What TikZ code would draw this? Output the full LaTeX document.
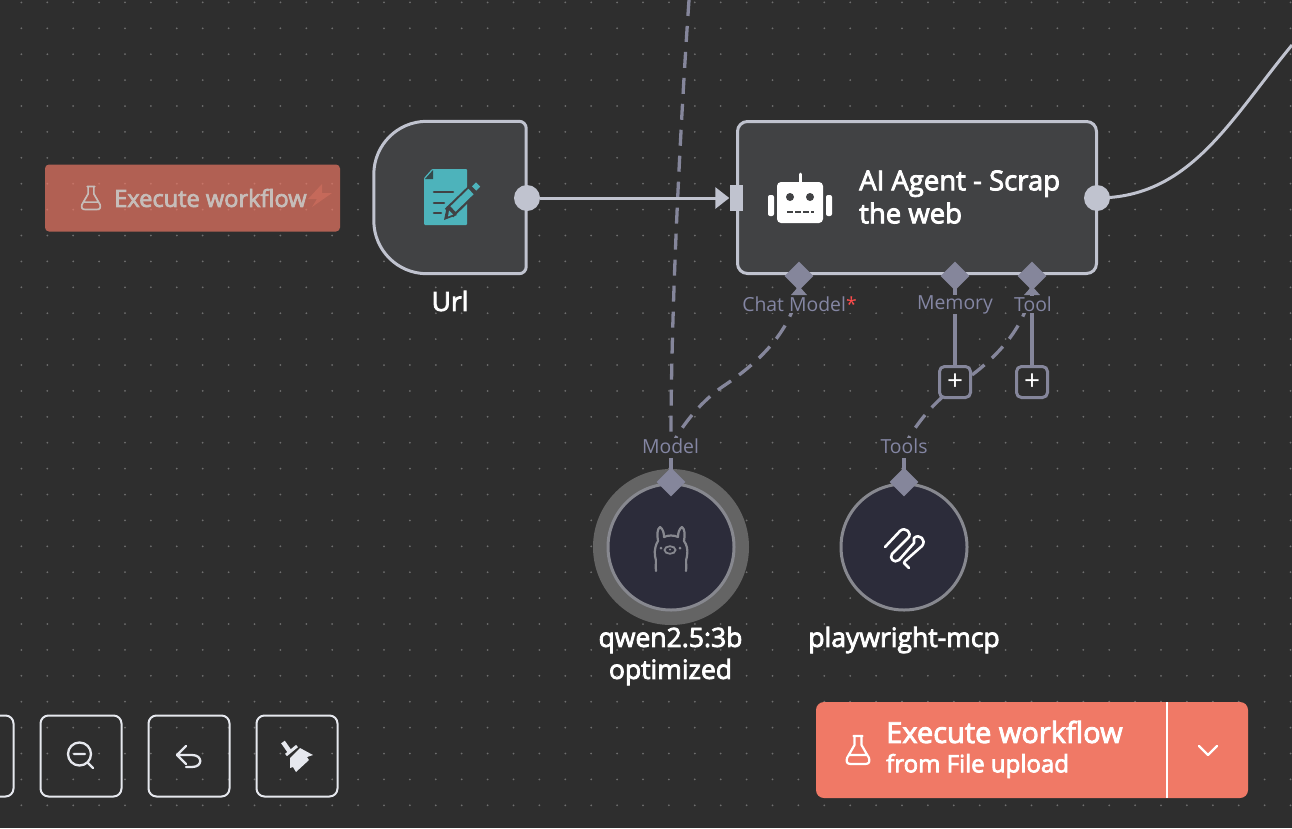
\documentclass[tikz,border=0pt]{standalone}
\usepackage{fontspec}
\setmainfont{Open Sans}
\newfontfamily\medfont[FakeBold=3]{Open Sans}
\usetikzlibrary{arrows.meta,calc,shapes.geometric}

\definecolor{canvas}{HTML}{2E2E2E}
\definecolor{griddotc}{HTML}{6E6E6E}
\definecolor{nodefill}{HTML}{414244}
\definecolor{nodeline}{HTML}{C0C3CF}
\definecolor{portc}{HTML}{85869B}
\definecolor{labelc}{HTML}{8486A3}
\definecolor{subfill}{HTML}{2C2C3A}
\definecolor{subline}{HTML}{87888F}
\definecolor{halo}{HTML}{646464}
\definecolor{coral}{HTML}{F07966}
\definecolor{teal}{HTML}{4DB3BB}
\definecolor{btnline}{HTML}{E6E8EE}
\definecolor{fadedtext}{HTML}{C6BDB9}

\tikzset{
	griddot/.style={griddotc},
	flowline/.style={nodeline, line width=3pt},
	subdash/.style={portc, line width=3.3pt, dash pattern=on 16pt off 10pt},
	substub/.style={portc, line width=3.3pt},
	portdiamond/.style={shape=diamond, fill=portc, minimum size=29pt, inner sep=0pt},
	outport/.style={shape=circle, fill=nodeline, minimum size=26pt, inner sep=0pt},
	portlabel/.style={text=labelc, fill=canvas, inner sep=0pt, minimum height=17pt, font=\fontsize{19.4}{20}\selectfont},
	nodetitle/.style={text=white, inner sep=0pt, align=center, font=\medfont\fontsize{26.5}{32}\selectfont},
	subnode/.style={shape=circle, fill=subfill, draw=subline, line width=3pt, minimum size=126pt, inner sep=0pt},
	plusbox/.style={draw=portc, fill=canvas, line width=3pt, rounded corners=5pt, minimum size=31pt, inner sep=0pt, text=white, font=\fontsize{28}{28}\selectfont},
	toolbtn/.style={draw=btnline, line width=2pt, rounded corners=8pt, minimum size=81pt, inner sep=0pt},
	flask/.pic={
		\draw[line join=round, line cap=round] (-4.5,-14) -- (4.5,-14) (-3.5,-14) -- (-3.5,-5) -- (-11,8)
			.. controls (-12,12) and (-11,14) .. (-7,14) -- (7,14)
			.. controls (11,14) and (12,12) .. (11,8) -- (3.5,-5) -- (3.5,-14)
			(-9,5) -- (9,5);
	}
}

\begin{document}
\begin{tikzpicture}[x=1pt, y=-1pt]
	\useasboundingbox (0,0) rectangle (1292,828);
	\clip (0,0) rectangle (1292,828);
	\fill[canvas] (0,0) rectangle (1292,828);

	% Dotted canvas
	\foreach \i in {0,...,50}
		\foreach \j in {0,...,31}
			\fill[griddot] ({-4.5+25.9*\i},{2.4+25.9*\j}) circle (1);

	% Trigger button
	\node[fill=coral, fill opacity=.68, rounded corners=4pt, minimum width=295pt, minimum height=67pt, inner sep=0pt] (trigger) at (192.5,198) {};
	\pic[draw=fadedtext, line width=1.7pt, scale=.82] at (91,198) {flask};
	\node[anchor=west, inner sep=0pt, text=fadedtext, font=\medfont\fontsize{23.6}{24}\selectfont] (triggertext) at (114,198) {Execute workflow};
	\fill[coral!78!canvas] (322,184) -- (308,199) -- (317,199) -- (312,207) -- (332,193) -- (322,193) -- cycle;

	% Ports the connectors run between
	\coordinate (chatport) at (799,276);
	\coordinate (memoryport) at (955,276);
	\coordinate (toolport) at (1032,276);
	\coordinate (modelport) at (671,482);
	\coordinate (toolsport) at (904,482);
	\coordinate (topend) at (689,0);
	\coordinate (rightend) at (1292,45);
	\coordinate (agentout) at (1097,198);

	% Connectors
	\draw[subdash] (topend) .. controls (682,100) and (671,300) .. (671,436);
	\foreach \from/\to in {chatport/modelport, toolport/toolsport}
		\draw[subdash] (\from) .. controls ($(\from)+(0,50)$) and ($(\from)+(-40,86)$) .. ($(\from)+(-74,109)$)
			.. controls ($(\from)+(-97,124)$) and ($(\to)+(11,-57)$) .. ($(\to)+(1,-37)$);
	\draw[flowline] (agentout) .. controls (1190,198) and (1230,120) .. (rightend);

	% Url node
	\node[minimum width=152pt, minimum height=152pt, inner sep=0pt] (urlnode) at (450,197.5) {};
	\draw[draw=nodeline, fill=nodefill, line width=3pt, rounded corners=53pt] (urlnode.north) -- (urlnode.north west) -- (urlnode.south west)
		[rounded corners=7pt] -- (urlnode.south) -- (urlnode.south east) -- (urlnode.north east) -- cycle;
	\node[nodetitle] (urltitle) at (450,301) {Url};

	% Note icon
	\fill[teal, rounded corners=1pt] (432,169) -- (467,169) -- (467,225) -- (424,225) -- (424,178) -- cycle;
	\fill[canvas!80!teal] (425,179) -- (433,170) -- (433,179) -- cycle;
	\draw[nodefill, line width=2.6pt, line cap=round] (434,192) -- (453,192) (434,203) -- (444,203) (434,213) -- (441,213);
	\draw[nodefill, line width=12pt] (449,213) -- (477,186);
	\draw[teal, line width=7.5pt] (453,209) -- (471,191.5);
	\draw[teal, line width=6pt] (474,188.5) -- (478,184.5);
	\fill[nodefill] (444,220) -- (447,206) -- (457,215) -- cycle;
	\fill[teal] (448,216.5) -- (449,210.5) -- (453,214.5) -- cycle;

	% Agent node
	\node[draw=nodeline, fill=nodefill, line width=3pt, rounded corners=10pt, minimum width=359pt, minimum height=152pt, inner sep=0pt] (agentnode) at (917,197.5) {};
	\node[anchor=west, inner sep=0pt, text=white, align=left, font=\medfont\fontsize{27.5}{33}\selectfont] (agenttitle) at (859,197) {AI Agent - Scrap\\the web};

	% Robot icon
	\draw[white, line width=3pt, line cap=round] (800,174) -- (800,184);
	\fill[white, rounded corners=4pt] (777,182) rectangle (823,223);
	\fill[white, rounded corners=2pt] (768,195) rectangle (774,216);
	\fill[white, rounded corners=2pt] (826,195) rectangle (832,216);
	\fill[nodefill] (790,197) circle (4) (810,197) circle (4);
	\draw[nodefill, line width=2.5pt, dash pattern=on 6pt off 2pt] (787,212) -- (814,212);

	% Main flow and the two round ports
	\node[outport] (urlout) at (527,198) {};
	\node[outport] (agentoutport) at (agentout) {};
	\node[fill=nodeline, minimum width=13pt, minimum height=26pt, inner sep=0pt] (agentin) at (736,198) {};
	\draw[flowline, -{Triangle[length=14pt, width=21pt]}] (urlout) -- (agentin);

	% Plus boxes and solid stubs
	\node[plusbox] (memoryplus) at (955,382) {+};
	\node[plusbox] (toolplus) at (1032,382) {+};
	\draw[substub] (memoryport) -- (memoryplus);
	\draw[substub] (toolport) -- (toolplus);

	% Subnodes
	\node[shape=circle, fill=halo, minimum size=156pt, inner sep=0pt] (modelhalo) at (671,547) {};
	\node[subnode] (modelnode) at (671,547) {};
	\node[subnode] (toolsnode) at (904,547) {};
	\draw[substub] (671,458) -- (modelport);
	\draw[substub] (904,458) -- (toolsport);

	% Diamonds
	\node[portdiamond] (chatd) at (chatport) {};
	\node[portdiamond] (memoryd) at (memoryport) {};
	\node[portdiamond] (toold) at (toolport) {};
	\node[portdiamond] (modeld) at (modelport) {};
	\node[portdiamond] (toolsd) at (toolsport) {};
	\foreach \port in {chatport, toolport}
		\fill[portc] ($(\port)+(-8,19)$) -- ($(\port)+(8,19)$) -- ($(\port)+(0,10)$) -- cycle;

	% Port labels
	\node[portlabel] (chatlabel) at (799.5,304.5) {Chat Model\textcolor{red!70!white}{*}};
	\node[portlabel] (memorylabel) at (955,304.5) {Memory};
	\node[portlabel] (toollabel) at (1033,304.5) {Tool};
	\node[portlabel] (modellabel) at (670.5,446.5) {Model};
	\node[portlabel] (toolslabel) at (904,446.5) {Tools};

	% Llama icon
	\draw[subline, line width=2.2pt, line join=round, line cap=round] (656,571) .. controls (655,565) and (657,562) .. (655,556)
		.. controls (654,550) and (656,544) .. (658,541) .. controls (657,535) and (657,529) .. (660,527)
		.. controls (663,529) and (664,533) .. (664,537) .. controls (668,535) and (674,535) .. (678,537)
		.. controls (678,533) and (679,529) .. (682,527) .. controls (685,529) and (685,535) .. (684,541)
		.. controls (687,545) and (688,550) .. (687,556) .. controls (685,562) and (687,565) .. (686,571);
	\draw[subline, line width=1.8pt] (670,550) ellipse (5.5 and 3.8);
	\fill[subline] (661,548) circle (1.5) (680,548) circle (1.5) (670,549.5) circle (1.2);

	% Clip icon
	\draw[white, line width=2.6pt, line join=round, line cap=round] (885,547) -- (900,531)
		.. controls (905,526) and (913,533) .. (908,538) -- (892,554)
		.. controls (889,558) and (894,564) .. (899,560) -- (914,543) -- (914,538)
		.. controls (919,533) and (927,540) .. (922,546) -- (905,561) -- (904,563) -- (909,568);

	% Subnode titles
	\node[nodetitle] (modeltitle) at (670.5,656) {qwen2.5:3b\\optimized};
	\node[nodetitle] (toolstitle) at (904,640) {playwright-mcp};

	% Canvas buttons
	\node[toolbtn] (fitbtn) at (-27,756) {};
	\node[toolbtn] (zoombtn) at (81,756) {};
	\node[toolbtn] (undobtn) at (189,756) {};
	\node[toolbtn] (tidybtn) at (297,756) {};
	\draw[btnline, line width=2.3pt, line cap=round] (79.5,754) circle (11.5) (74,754) -- (85,754) (88,763) -- (93,768);
	\draw[btnline, line width=2.3pt, line cap=round, line join=round] (186,746) -- (177,755) -- (186,764)
		(177,755) -- (192,755) .. controls (203,755) and (203,767) .. (192,767) -- (186,767);
	\draw[btnline, line width=4.5pt] (283,742) -- (290,752);
	\draw[btnline, line width=3pt] (286,755) -- (297,746);
	\fill[btnline] (290,758) -- (300,748) -- (313,755) -- (307,757) -- (309,760) -- (296,772) -- (293,767) -- (290,768) -- cycle;

	% Run button
	\node[fill=coral, rounded corners=8pt, minimum width=432pt, minimum height=96pt, inner sep=0pt] (runbtn) at (1032,750) {};
	\draw[white, line width=2pt] (1167,702) -- (1167,798);
	\pic[draw=white, line width=2.2pt] at (858,750) {flask};
	\node[anchor=west, inner sep=0pt, text=white, font=\medfont\fontsize{29}{30}\selectfont] (runtitle) at (886,732) {Execute workflow};
	\node[anchor=west, inner sep=0pt, text=white, font=\medfont\fontsize{24}{24}\selectfont] (runsub) at (886,766) {from File upload};
	\draw[white, line width=2.4pt, line cap=round, line join=round] (1199,746) -- (1208,755) -- (1217,746);
\end{tikzpicture}
\end{document}
